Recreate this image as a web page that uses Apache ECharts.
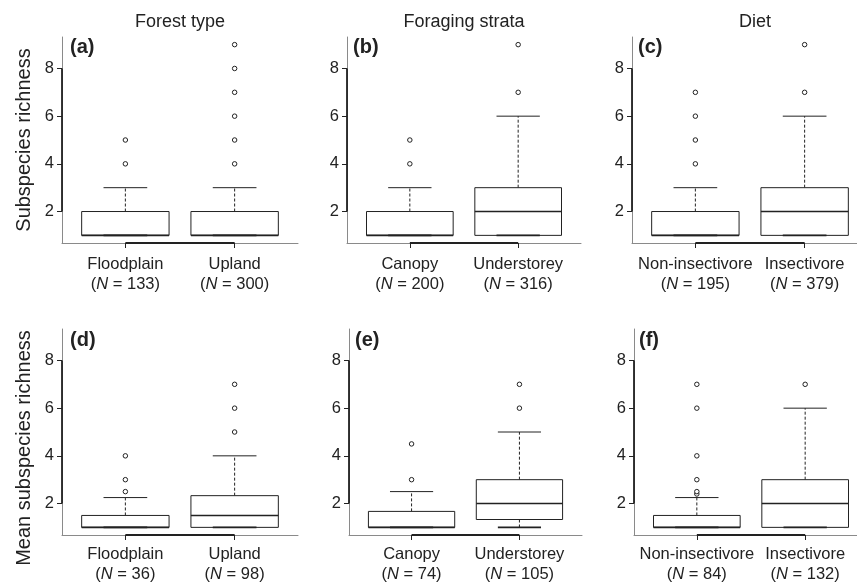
<!DOCTYPE html>
<html>
<head>
<meta charset="utf-8">
<script src="https://cdn.jsdelivr.net/npm/echarts@6/dist/echarts.min.js"></script>
<style>
html,body{margin:0;padding:0;background:#fff;}
#chart{width:857px;height:583px;}
</style>
</head>
<body>
<div id="chart"></div>
<script>
// ---- data ----
const columnTitles = ['Forest type', 'Foraging strata', 'Diet'];
const rowTitles = ['Subspecies richness', 'Mean subspecies richness'];
const panelLetters = ['(a)', '(b)', '(c)', '(d)', '(e)', '(f)'];
const yTicks = [2, 4, 6, 8];
const catTicks = [1, 2];

const catsForest = ['Floodplain', 'Upland'];
const catsStrata = ['Canopy', 'Understorey'];
const catsDiet = ['Non-insectivore', 'Insectivore'];

const nA = [133, 300];
const nB = [200, 316];
const nC = [195, 379];
const nD = [36, 98];
const nE = [74, 105];
const nF = [84, 132];

// [lower whisker, Q1, median, Q3, upper whisker]
const boxA = [[1, 1, 1, 2, 3], [1, 1, 1, 2, 3]];
const boxB = [[1, 1, 1, 2, 3], [1, 1, 2, 3, 6]];
const boxC = [[1, 1, 1, 2, 3], [1, 1, 2, 3, 6]];
const boxD = [[1, 1, 1, 1.5, 2.25], [1, 1, 1.5, 2.33, 4]];
const boxE = [[1, 1, 1, 1.67, 2.5], [1, 1.33, 2, 3, 5]];
const boxF = [[1, 1, 1, 1.5, 2.25], [1, 1, 2, 3, 6]];

const outA = [[4, 5], [4, 5, 6, 7, 8, 9]];
const outB = [[4, 5], [7, 9]];
const outC = [[4, 5, 6, 7], [7, 9]];
const outD = [[2.5, 3, 4], [5, 6, 7]];
const outE = [[3, 4.5], [6, 7]];
const outF = [[2.4, 2.5, 3, 4, 6, 7], [7]];

// ---- layout / style ----
const FONT = '"Liberation Sans", Arial, Helvetica, sans-serif';
const INK = '#222';
const X_MIN = 0.42, X_MAX = 2.58, Y_MIN = 0.68, Y_MAX = 9.32;

const panels = [
  {cats: catsForest, n: nA, box: boxA, out: outA, margin: 12, grid: {left: 62, top: 37, width: 236, height: 206}},
  {cats: catsStrata, n: nB, box: boxB, out: outB, margin: 12, grid: {left: 347, top: 37, width: 234, height: 206}},
  {cats: catsDiet,   n: nC, box: boxC, out: outC, margin: 12, grid: {left: 632, top: 37, width: 236, height: 206}},
  {cats: catsForest, n: nD, box: boxD, out: outD, margin: 10, grid: {left: 62, top: 329, width: 236, height: 206}},
  {cats: catsStrata, n: nE, box: boxE, out: outE, margin: 10, grid: {left: 349, top: 329, width: 233, height: 206}},
  {cats: catsDiet,   n: nF, box: boxF, out: outF, margin: 10, grid: {left: 634, top: 329, width: 234, height: 206}}
];

function renderBox(params, api) {
  const x = api.value(0);
  const lo = api.value(1), q1 = api.value(2), med = api.value(3), q3 = api.value(4), hi = api.value(5);
  const pL = api.coord([x - 0.4, med]);
  const pR = api.coord([x + 0.4, med]);
  const cx = api.coord([x, med])[0];
  const halfW = (pR[0] - pL[0]) / 2;
  const capHalf = halfW / 2;
  const yLo = api.coord([x, lo])[1];
  const yQ1 = api.coord([x, q1])[1];
  const yMed = api.coord([x, med])[1];
  const yQ3 = api.coord([x, q3])[1];
  const yHi = api.coord([x, hi])[1];
  const solid = {stroke: INK, lineWidth: 1, fill: null};
  const dashed = {stroke: INK, lineWidth: 1, lineDash: [3, 2], fill: null};
  const children = [];
  if (hi > q3) children.push({type: 'line', shape: {x1: cx, y1: yQ3, x2: cx, y2: yHi}, style: dashed});
  children.push({type: 'line', shape: {x1: cx - capHalf, y1: yHi, x2: cx + capHalf, y2: yHi}, style: solid});
  if (lo < q1) children.push({type: 'line', shape: {x1: cx, y1: yQ1, x2: cx, y2: yLo}, style: dashed});
  children.push({type: 'rect', shape: {x: cx - halfW, y: yQ3, width: 2 * halfW, height: yQ1 - yQ3},
    style: {fill: '#fff', stroke: INK, lineWidth: 1}});
  children.push({type: 'line', shape: {x1: cx - capHalf, y1: yLo, x2: cx + capHalf, y2: yLo}, style: {stroke: INK, lineWidth: 1.6}});
  children.push({type: 'line', shape: {x1: cx - halfW, y1: yMed, x2: cx + halfW, y2: yMed}, style: {stroke: INK, lineWidth: 1.6}});
  return {type: 'group', children: children};
}

function renderAxisDark(params, api) {
  const a = api.coord([catTicks[0], Y_MIN]);
  const b = api.coord([catTicks[catTicks.length - 1], Y_MIN]);
  const c = api.coord([X_MIN, yTicks[0]]);
  const d = api.coord([X_MIN, yTicks[yTicks.length - 1]]);
  return {type: 'group', children: [
    {type: 'line', shape: {x1: a[0], y1: a[1], x2: b[0], y2: b[1]}, style: {stroke: INK, lineWidth: 1.8}},
    {type: 'line', shape: {x1: c[0], y1: c[1], x2: d[0], y2: d[1]}, style: {stroke: INK, lineWidth: 1.8}}
  ]};
}

const grid = [], xAxis = [], yAxis = [], series = [];
panels.forEach((p, i) => {
  grid.push(Object.assign({outerBoundsMode: 'none'}, p.grid));
  xAxis.push({
    gridIndex: i, type: 'value', min: X_MIN, max: X_MAX,
    axisLine: {show: true, onZero: false, lineStyle: {color: '#8a8a8a', width: 1}},
    axisTick: {show: true, customValues: catTicks, length: 5, lineStyle: {color: INK, width: 1}},
    axisLabel: {
      customValues: catTicks, color: INK, fontFamily: FONT, fontSize: 16.5, lineHeight: 19.5, margin: p.margin,
      formatter: (v) => {
        const k = Math.round(v) - 1;
        return p.cats[k] + '\n({i|N} = ' + p.n[k] + ')';
      },
      rich: {i: {fontStyle: 'italic', fontFamily: FONT, fontSize: 16.5, color: INK, lineHeight: 19.5}}
    },
    splitLine: {show: false}
  });
  yAxis.push({
    gridIndex: i, type: 'value', min: Y_MIN, max: Y_MAX,
    axisLine: {show: true, onZero: false, lineStyle: {color: '#8a8a8a', width: 1}},
    axisTick: {show: true, customValues: yTicks, length: 5, lineStyle: {color: INK, width: 1}},
    axisLabel: {customValues: yTicks, color: INK, fontFamily: FONT, fontSize: 16.5, margin: 8},
    splitLine: {show: false}
  });
  series.push({
    type: 'custom', xAxisIndex: i, yAxisIndex: i, silent: true, clip: false, z: 1,
    renderItem: renderAxisDark, data: [[catTicks[0], yTicks[0]]]
  });
  series.push({
    type: 'custom', xAxisIndex: i, yAxisIndex: i, silent: true, z: 2,
    renderItem: renderBox,
    encode: {x: 0, y: [1, 2, 3, 4, 5]},
    data: p.box.map((b, k) => [catTicks[k]].concat(b))
  });
  series.push({
    type: 'scatter', xAxisIndex: i, yAxisIndex: i, silent: true, z: 3,
    symbol: 'circle', symbolSize: 4.5,
    itemStyle: {color: '#fff', borderColor: INK, borderWidth: 1, opacity: 1},
    data: p.out.flatMap((arr, k) => arr.map(v => [catTicks[k], v]))
  });
});

const graphic = [];
const colCenters = [180, 464, 755];
columnTitles.forEach((t, j) => {
  graphic.push({type: 'text', x: colCenters[j], y: 22.5, silent: true,
    style: {text: t, font: '18px ' + FONT, fill: INK, textAlign: 'center', textVerticalAlign: 'middle'}});
});
const rowCenters = [140, 448];
rowTitles.forEach((t, j) => {
  graphic.push({type: 'text', x: 24, y: rowCenters[j], rotation: Math.PI / 2, silent: true,
    style: {text: t, font: '20px ' + FONT, fill: INK, textAlign: 'center', textVerticalAlign: 'middle'}});
});
const letterPos = [[70, 47.5], [353, 47.5], [638, 47.5], [70, 340.5], [355, 340.5], [639, 340.5]];
panelLetters.forEach((t, j) => {
  graphic.push({type: 'text', x: letterPos[j][0], y: letterPos[j][1], silent: true,
    style: {text: t, font: 'bold 20px ' + FONT, fill: INK, textAlign: 'left', textVerticalAlign: 'middle'}});
});

const chart = echarts.init(document.getElementById('chart'), null, {renderer: 'canvas'});
chart.setOption({
  animation: false,
  backgroundColor: '#fff',
  grid: grid, xAxis: xAxis, yAxis: yAxis, series: series, graphic: graphic
});
</script>
</body>
</html>
